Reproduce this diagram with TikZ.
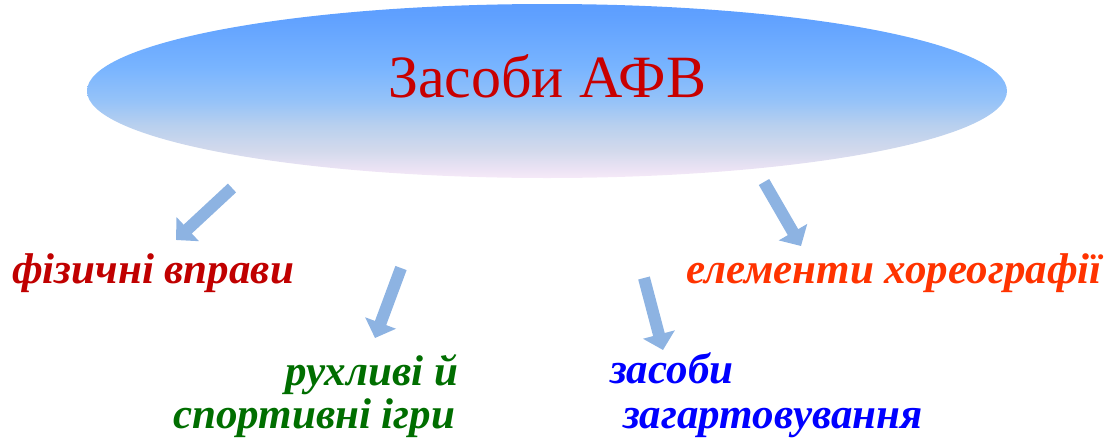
\documentclass[tikz,border=0pt]{standalone}
\usepackage{fontspec}
\setmainfont{Liberation Serif}
\usetikzlibrary{arrows.meta}
\definecolor{arrowblue}{RGB}{141,179,226}
\definecolor{titlered}{RGB}{200,0,0}
\definecolor{darkred}{RGB}{192,0,0}
\definecolor{orangered}{RGB}{255,51,0}
\definecolor{dgreen}{RGB}{0,110,0}
\definecolor{pblue}{RGB}{0,0,255}
\pgfdeclareverticalshading{ellshade}{100bp}{%
  color(0bp)=(rgb,255:red,246;green,234;blue,248);
  color(25bp)=(rgb,255:red,246;green,234;blue,248);
  color(27bp)=(rgb,255:red,238;green,228;blue,245);
  color(33bp)=(rgb,255:red,210;green,217;blue,236);
  color(40bp)=(rgb,255:red,185;green,208;blue,238);
  color(47bp)=(rgb,255:red,150;green,195;blue,248);
  color(57bp)=(rgb,255:red,120;green,180;blue,255);
  color(72bp)=(rgb,255:red,95;green,160;blue,255);
  color(75bp)=(rgb,255:red,93;green,158;blue,255);
  color(100bp)=(rgb,255:red,93;green,158;blue,255)}
\tikzset{
  blockarrow/.style={arrowblue, line width=12pt,
    -{Triangle[length=16pt,width=32pt]}},
  item/.style={font=\fontsize{43}{45}\selectfont\bfseries\itshape, anchor=base west, inner sep=0pt},
}
\begin{document}
\begin{tikzpicture}[x=1pt,y=-1pt]
\useasboundingbox (0,0) rectangle (1109,437);
\shade[shading=ellshade] (547,91) ellipse [x radius=460, y radius=87];
\node[font=\fontsize{60}{64}\selectfont, text=titlered, anchor=base, inner sep=0pt] (title) at (547,97) {Засоби АФВ};

\node[item, text=darkred] (fiz) at (12,283) {фізичні вправи};
\node[item, text=orangered] (chor) at (686,283) {елементи хореографії};
\node[item, text=dgreen] (ruh1) at (285,385) {рухливі й};
\node[item, text=dgreen] (ruh2) at (173,428) {спортивні ігри};
\node[item, text=pblue] (zas1) at (610,383) {засоби};
\node[item, text=pblue] (zas2) at (623,428) {загартовування};

\coordinate (a1s) at (232,188); \coordinate (a1e) at (176,240);
\coordinate (a2s) at (401,268); \coordinate (a2e) at (375,338);
\coordinate (a3s) at (644,278); \coordinate (a3e) at (663,350);
\coordinate (a4s) at (764,182); \coordinate (a4e) at (801,246);
\draw[blockarrow] (a1s) -- (a1e);
\draw[blockarrow] (a2s) -- (a2e);
\draw[blockarrow] (a3s) -- (a3e);
\draw[blockarrow] (a4s) -- (a4e);
\end{tikzpicture}
\end{document}
